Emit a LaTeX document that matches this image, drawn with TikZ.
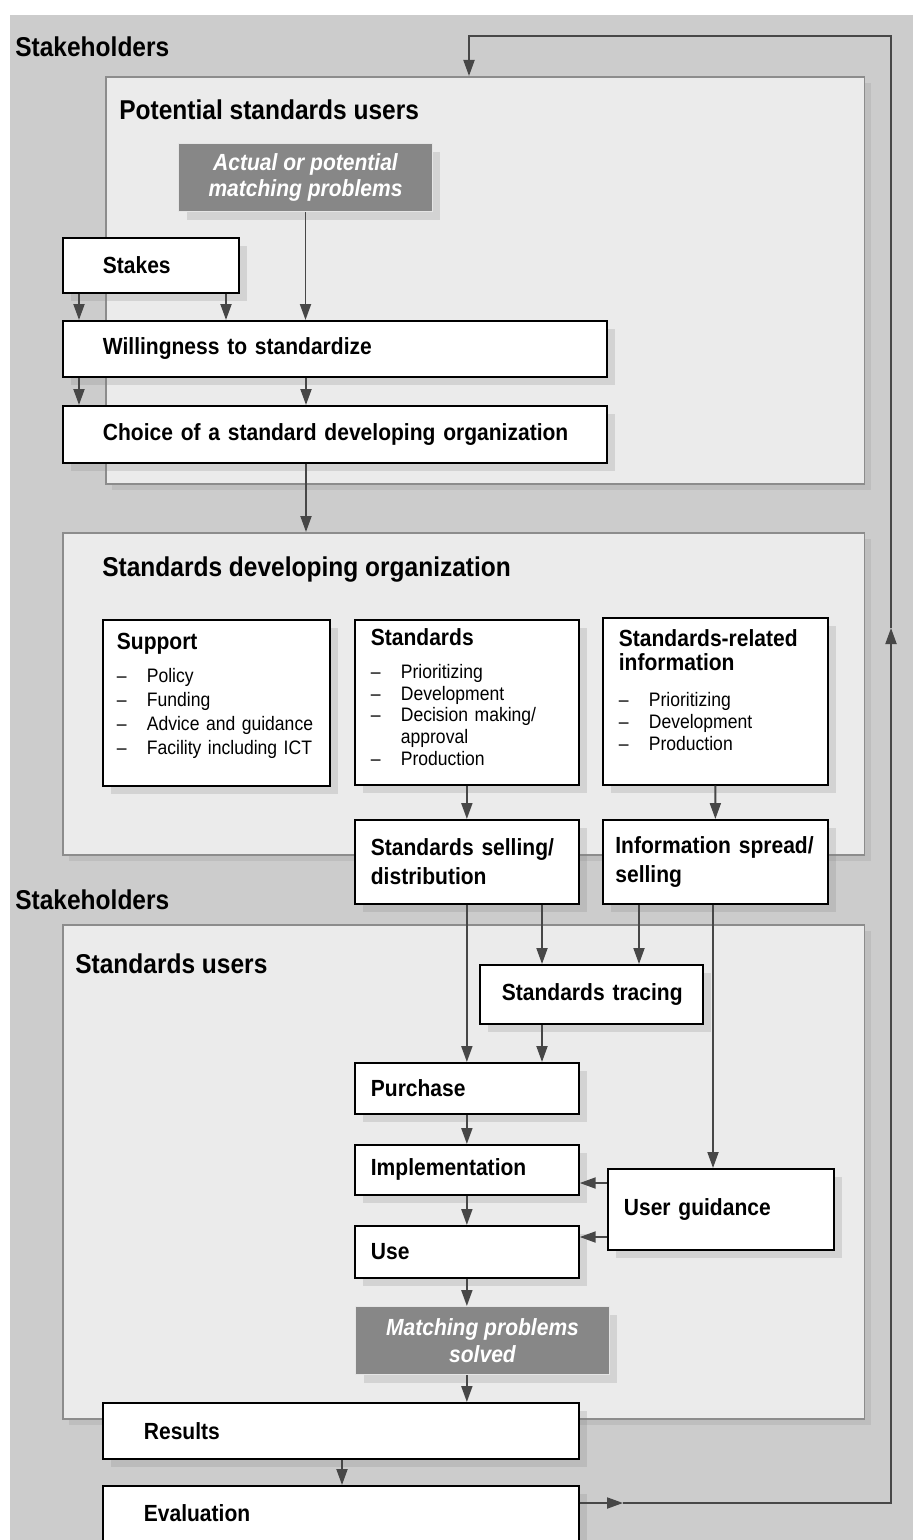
\documentclass[tikz,border=0pt]{standalone}
\usepackage{fontspec}
\setmainfont{Liberation Sans}[FakeStretch=0.9]
\usetikzlibrary{calc,arrows.meta,shadows}
\def\dashitem#1{\makebox[0.6cm][l]{–}#1}
\newcommand\boxfont{\fontsize{13.3}{14.5}\selectfont\bfseries}
\newcommand\titlefont{\fontsize{15.5}{17}\selectfont\bfseries}

\tikzset{
  panel/.style={draw=black!45, line width=0.9pt, fill=black!8, anchor=north west, inner sep=0pt,
    drop shadow={shadow xshift=0.12cm, shadow yshift=-0.12cm, opacity=0.18}},
  box/.style={draw=black, line width=1pt, fill=white, anchor=north west, align=left, font=\boxfont,
    inner ysep=0pt, drop shadow={shadow xshift=0.16cm, shadow yshift=-0.16cm, opacity=0.22}},
  greybox/.style={box, draw=black!10, line width=0.6pt, fill=black!47, text=white, align=center,
    font=\boxfont\itshape},
  listbox/.style={box, font=\fontsize{11.1}{12.3}\selectfont},
  heading/.style={anchor=base west, inner sep=0pt, font=\titlefont},
  conn/.style={draw=black!72, line width=1.1pt, -{Triangle[length=0.32cm, width=0.22cm]}}
}

\begin{document}
\begin{tikzpicture}[x=0.02cm, y=-0.02cm]
		%%%%% START %%%%%
		\useasboundingbox (0,0) rectangle (913,1540);
		\fill[black!20] (10,15) rectangle (913,1540);
		
		% the three panels
		\node[heading] (stakeA) at (15,57) {Stakeholders};
		\node[panel, minimum width=15.18cm, minimum height=8.14cm] (potusers) at (105,76) {};
		\node[heading] (potlabel) at (119,120) {Potential standards users};
		
		\node[panel, minimum width=16.04cm, minimum height=6.44cm] (sdo) at (62,532) {};
		\node[heading] (sdolabel) at (102,576) {Standards developing organization};
		
		\node[heading] (stakeB) at (15,909) {Stakeholders};
		\node[panel, minimum width=16.04cm, minimum height=9.88cm] (stdusers) at (62,924) {};
		\node[heading] (userlabel) at (75,973) {Standards users};
		
		% potential standards users
		\node[greybox, minimum width=5.08cm, minimum height=1.36cm] (actual) at (178,143) {Actual or potential\\[0.8pt]matching problems};
		\node[box, text width=1.92cm, inner xsep=0.8cm, minimum height=1.1cm] (stakes) at (62,237) {Stakes};
		\node[box, text width=9.28cm, inner xsep=0.8cm, minimum height=1.12cm] (willing) at (62,320) {Willingness to standardize};
		\node[box, text width=9.28cm, inner xsep=0.8cm, minimum height=1.14cm] (choice) at (62,405) {\mbox{Choice of a standard developing organization}};
		
		% standards developing organization
		\node[listbox, text width=3.98cm, inner xsep=0.28cm, minimum height=3.32cm, font=\fontsize{11.1}{13.6}\selectfont] (support) at (102,619)
			{{\boxfont Support}\\[5.1pt]\dashitem{Policy}\\\dashitem{Funding}\\\dashitem{Advice and guidance}\\\dashitem{Facility including ICT}\rule[-10pt]{0pt}{0pt}};
		\node[listbox, text width=3.84cm, inner xsep=0.32cm, minimum height=3.3cm] (stds) at (354,619)
			{{\boxfont Standards}\\[6.4pt]\dashitem{Prioritizing}\\\dashitem{Development}\\\dashitem{Decision making/}\\\makebox[0.6cm]{}approval\\\dashitem{Production}\rule[-6pt]{0pt}{0pt}};
		\node[listbox, text width=3.86cm, inner xsep=0.32cm, minimum height=3.34cm] (info) at (602,617)
			{{\boxfont Standards-related}\\[1.4pt]{\boxfont information}\\[8.2pt]\dashitem{Prioritizing}\\\dashitem{Development}\\\dashitem{Production}\rule[-13pt]{0pt}{0pt}};
		\node[box, text width=3.84cm, inner xsep=0.32cm, minimum height=1.68cm] (selling) at (354,819) {Standards selling/\\[1.9pt]distribution};
		\node[box, text width=4.0cm, inner xsep=0.25cm, minimum height=1.68cm] (spread) at (602,819) {Information spread/\\[1.9pt]selling};
		
		% standards users
		\node[box, text width=3.58cm, inner xsep=0.44cm, minimum height=1.18cm] (tracing) at (479,964) {\mbox{Standards tracing}};
		\node[box, text width=3.84cm, inner xsep=0.32cm, minimum height=1.02cm] (purchase) at (354,1062) {Purchase};
		\node[box, text width=3.84cm, inner xsep=0.32cm, minimum height=1.0cm] (implement) at (354,1144) {Implementation};
		\node[box, text width=3.88cm, inner xsep=0.32cm, minimum height=1.62cm] (guidance) at (607,1168) {User guidance};
		\node[box, text width=3.84cm, inner xsep=0.32cm, minimum height=1.04cm] (use) at (354,1225) {Use};
		\node[greybox, minimum width=5.08cm, minimum height=1.36cm] (solved) at (355,1306) {Matching problems\\[0.8pt]solved};
		\node[box, text width=7.88cm, inner xsep=0.82cm, minimum height=1.12cm] (results) at (102,1402) {Results};
		\node[box, text width=7.88cm, inner xsep=0.82cm, minimum height=1.1cm] (evaluation) at (102,1485) {Evaluation};
		
		% connectors
		\draw[conn] (actual.south) -- (actual.south |- willing.north);
		\draw[conn] ($(stakes.south west)+(17,0)$) -- ($(willing.north west)+(17,0)$);
		\draw[conn] ($(stakes.south west)+(164,0)$) -- ($(willing.north west)+(164,0)$);
		\draw[conn] ($(willing.south west)+(17,0)$) -- ($(choice.north west)+(17,0)$);
		\draw[conn] ($(willing.south west)+(244,0)$) -- ($(choice.north west)+(244,0)$);
		\draw[conn] ($(choice.south west)+(244,0)$) -- ($(sdo.north west)+(244,0)$);
		
		\draw[conn] (stds.south) -- (selling.north);
		\draw[conn] (info.south) -- (spread.north);
		
		\coordinate (selA) at ($(selling.south west)+(188,0)$);
		\coordinate (sprA) at ($(spread.south west)+(37,0)$);
		\coordinate (sprB) at ($(spread.south west)+(111,0)$);
		\coordinate (trcA) at ($(tracing.south west)+(63,0)$);
		\draw[conn] (selling.south) -- (purchase.north);
		\draw[conn] (selA) -- (selA |- tracing.north);
		\draw[conn] (sprA) -- (sprA |- tracing.north);
		\draw[conn] (sprB) -- (sprB |- guidance.north);
		\draw[conn] (trcA) -- (trcA |- purchase.north);
		
		\draw[conn] (purchase.south) -- (implement.north);
		\draw[conn] (implement.south) -- (use.north);
		\draw[conn] (use.south) -- (use.south |- solved.north);
		\draw[conn] (use.south |- solved.south) -- (use.south |- results.north);
		\draw[conn] ($(results.south west)+(240,0)$) -- ($(evaluation.north west)+(240,0)$);
		
		\coordinate (gdA) at ($(guidance.north west)+(0,15)$);
		\coordinate (gdB) at ($(guidance.north west)+(0,69)$);
		\draw[conn] (gdA) -- (gdA -| implement.east);
		\draw[conn] (gdB) -- (gdB -| use.east);
		
		% feedback loop
		\coordinate (evA) at ($(evaluation.north east)+(0,18)$);
		\coordinate (fbA) at (623,1503);
		\coordinate (fbR) at (891,1503);
		\coordinate (fbB) at (891,628);
		\coordinate (fbC) at (891,36);
		\coordinate (fbD) at (469,36);
		\draw[conn] (evA) -- (fbA);
		\draw[conn] (fbA) -- (fbR) -- (fbB);
		\draw[conn] (fbB) -- (fbC) -- (fbD) -- (fbD |- potusers.north);
		
		%%%%% END %%%%%
\end{tikzpicture}
\end{document}
